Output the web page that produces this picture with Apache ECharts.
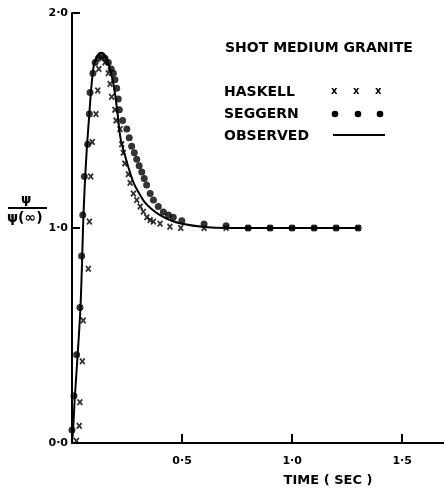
<!DOCTYPE html>
<html>
<head>
<meta charset="utf-8">
<script src="https://cdn.jsdelivr.net/npm/echarts@6/dist/echarts.min.js"></script>
<style>
  html, body { margin: 0; padding: 0; background: #fff; }
  #chart { width: 444px; height: 488px; }
</style>
</head>
<body>
<div id="chart"></div>
<script>
// time (sec) and psi / psi(inf)
var haskellT = [0.02, 0.033, 0.036, 0.047, 0.051, 0.074, 0.079, 0.085, 0.092, 0.109, 0.117, 0.122, 0.15, 0.165,
  0.173, 0.18, 0.195, 0.2, 0.218, 0.226, 0.233, 0.24, 0.256, 0.264, 0.279, 0.294, 0.31, 0.324, 0.34, 0.355,
  0.37, 0.4, 0.445, 0.494, 0.6, 0.7, 0.8, 0.9, 1.0, 1.1, 1.2, 1.3]
var haskellV = [0.01, 0.08, 0.19, 0.38, 0.57, 0.81, 1.03, 1.24, 1.4, 1.53, 1.64, 1.74, 1.77, 1.72,
  1.67, 1.61, 1.55, 1.5, 1.46, 1.39, 1.35, 1.3, 1.25, 1.21, 1.16, 1.13, 1.1, 1.076, 1.05, 1.037,
  1.03, 1.02, 1.006, 1.0, 1.0, 1.0, 1.0, 1.0, 1.0, 1.0, 1.0, 1.0]

var segT = [0.0, 0.009, 0.021, 0.036, 0.044, 0.049, 0.056, 0.071, 0.079, 0.082, 0.095, 0.105, 0.12, 0.135,
  0.15, 0.165, 0.178, 0.188, 0.195, 0.203, 0.21, 0.215, 0.23, 0.249, 0.26, 0.271, 0.283, 0.294, 0.305,
  0.317, 0.328, 0.339, 0.355, 0.37, 0.392, 0.415, 0.438, 0.46, 0.499, 0.6, 0.7, 0.8, 0.9, 1.0, 1.1, 1.2, 1.3]
var segV = [0.06, 0.22, 0.41, 0.63, 0.87, 1.06, 1.24, 1.39, 1.53, 1.63, 1.72, 1.77, 1.79, 1.8,
  1.79, 1.77, 1.74, 1.72, 1.69, 1.65, 1.6, 1.55, 1.5, 1.46, 1.42, 1.38, 1.35, 1.32, 1.29,
  1.26, 1.23, 1.2, 1.16, 1.13, 1.1, 1.075, 1.06, 1.05, 1.034, 1.019, 1.01, 1.0, 1.0, 1.0, 1.0, 1.0, 1.0]

var obsT = [0.0, 0.005, 0.012, 0.025, 0.038, 0.046, 0.05, 0.058, 0.068, 0.078, 0.085, 0.092, 0.1, 0.115,
  0.13, 0.145, 0.16, 0.175, 0.19, 0.205, 0.22, 0.24, 0.26, 0.28, 0.3, 0.33, 0.36, 0.4, 0.45, 0.5, 0.6, 0.7, 1.3]
var obsV = [0.0, 0.06, 0.2, 0.4, 0.62, 0.85, 1.0, 1.2, 1.38, 1.52, 1.62, 1.7, 1.76, 1.8,
  1.815, 1.81, 1.78, 1.73, 1.66, 1.55, 1.42, 1.34, 1.27, 1.21, 1.17, 1.12, 1.09, 1.06, 1.035, 1.02, 1.005, 1.0, 1.0]

var xTickLabels = ['0·5', '1·0', '1·5']
var yTickLabels = ['0·0', '1·0', '2·0']

var FONT = 'DejaVu Sans'
var crossPath = 'path://M0,2L2,0L5,3L8,0L10,2L7,5L10,8L8,10L5,7L2,10L0,8L3,5Z'

function zip(a, b) {
  return a.map(function(v, i) { return [v, b[i]] })
}

function txt(x, y, s, size) {
  return { type: 'text', left: x, top: y, style: { text: s, font: 'bold ' + size + 'px ' + FONT, fill: '#000' } }
}

var myChart = echarts.init(document.getElementById('chart'))
var option = {
  animation: false,
  grid: { left: 72, right: 0, top: 13, bottom: 45, outerBoundsMode: 'none' },
  xAxis: {
    type: 'value',
    min: 0,
    max: 1.69,
    interval: 0.5,
    splitLine: { show: false },
    axisLine: { lineStyle: { color: '#000', width: 2 } },
    axisTick: { inside: true, length: 9, lineStyle: { color: '#000', width: 2 } },
    axisLabel: {
      color: '#000', fontFamily: FONT, fontWeight: 'bold', fontSize: 11, margin: 13,
      showMaxLabel: false,
      formatter: function(v) {
        var i = Math.round(v / 0.5) - 1
        if (Math.abs(v / 0.5 - Math.round(v / 0.5)) > 1e-6 || i < 0) return ''
        return xTickLabels[i]
      }
    },
    name: 'TIME ( SEC )',
    nameLocation: 'middle',
    nameGap: 31,
    nameTextStyle: { color: '#000', fontFamily: FONT, fontWeight: 'bold', fontSize: 13, padding: [0, 0, 0, 140] }
  },
  yAxis: {
    type: 'value',
    min: 0,
    max: 2,
    interval: 1,
    splitLine: { show: false },
    axisLine: { lineStyle: { color: '#000', width: 2 } },
    axisTick: { inside: true, length: 8, lineStyle: { color: '#000', width: 2 } },
    axisLabel: {
      color: '#000', fontFamily: FONT, fontWeight: 'bold', fontSize: 11, margin: 4,
      formatter: function(v) { return yTickLabels[Math.round(v)] }
    }
  },
  graphic: [
    // y axis name, drawn as a fraction
    txt(21, 193, 'ψ', 13),
    { type: 'line', shape: { x1: 8, y1: 208, x2: 47, y2: 208 }, style: { stroke: '#000', lineWidth: 2 } },
    txt(7, 211, 'ψ(∞)', 14),
    // title and legend
    txt(225, 41, 'SHOT MEDIUM GRANITE', 14),
    txt(224, 85, 'HASKELL', 14),
    txt(224, 107, 'SEGGERN', 14),
    txt(224, 129, 'OBSERVED', 14),
    txt(331, 86, 'x', 10),
    txt(353, 86, 'x', 10),
    txt(375, 86, 'x', 10),
    { type: 'circle', shape: { cx: 335, cy: 114, r: 3.3 }, style: { fill: '#000' } },
    { type: 'circle', shape: { cx: 358, cy: 114, r: 3.3 }, style: { fill: '#000' } },
    { type: 'circle', shape: { cx: 380, cy: 114, r: 3.3 }, style: { fill: '#000' } },
    { type: 'line', shape: { x1: 333, y1: 135, x2: 385, y2: 135 }, style: { stroke: '#000', lineWidth: 2 } }
  ],
  series: [
    {
      name: 'OBSERVED',
      type: 'line',
      data: zip(obsT, obsV),
      showSymbol: false,
      smooth: 0.3,
      lineStyle: { color: '#000', width: 2 },
      z: 2
    },
    {
      name: 'SEGGERN',
      type: 'scatter',
      data: zip(segT, segV),
      symbol: 'circle',
      symbolSize: 7,
      itemStyle: { color: '#000' },
      z: 3
    },
    {
      name: 'HASKELL',
      type: 'scatter',
      data: zip(haskellT, haskellV),
      symbol: crossPath,
      symbolSize: [6, 7],
      itemStyle: { color: '#000' },
      z: 4
    }
  ]
}
myChart.setOption(option)
</script>
</body>
</html>
